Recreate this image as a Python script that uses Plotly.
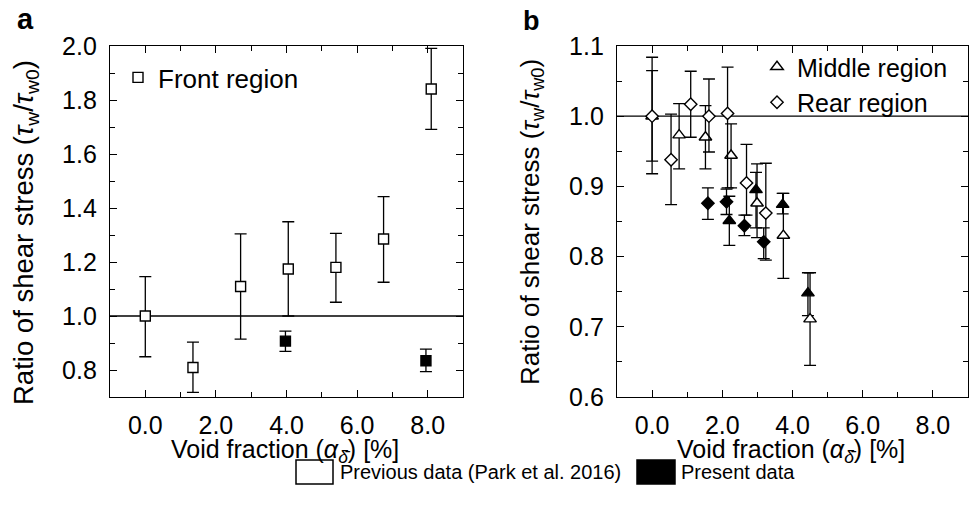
import plotly.graph_objects as go

# ---------------- data ----------------
# Panel a: front region
front_prev_x = [0.0, 1.35, 2.7, 4.05, 5.4, 6.75, 8.1]
front_prev_y = [1.000, 0.809, 1.109, 1.174, 1.180, 1.285, 1.841]
front_prev_lo = [0.849, 0.717, 0.914, 1.000, 1.051, 1.125, 1.691]
front_prev_hi = [1.146, 0.903, 1.304, 1.349, 1.306, 1.442, 1.991]

front_pres_x = [3.97, 7.95]
front_pres_y = [0.907, 0.834]
front_pres_lo = [0.869, 0.794]
front_pres_hi = [0.944, 0.877]

# Panel b: middle region
middle_prev_x = [0.0, 0.77, 1.52, 2.25, 2.99, 3.74, 4.50]
middle_prev_y = [1.000, 0.973, 0.970, 0.944, 0.876, 0.830, 0.711]
middle_prev_lo = [0.936, 0.925, 0.925, 0.898, 0.827, 0.769, 0.645]
middle_prev_hi = [1.065, 1.018, 1.015, 0.989, 0.932, 0.890, 0.777]

middle_pres_x = [2.20, 2.96, 3.72, 4.44]
middle_pres_y = [0.851, 0.895, 0.874, 0.748]
middle_pres_lo = [0.816, 0.841, 0.861, 0.716]
middle_pres_hi = [0.886, 0.920, 0.890, 0.777]

# Panel b: rear region
rear_prev_x = [0.0, 0.54, 1.10, 1.62, 2.15, 2.69, 3.24]
rear_prev_y = [1.000, 0.938, 1.017, 1.000, 1.004, 0.905, 0.862]
rear_prev_lo = [0.918, 0.874, 0.970, 0.949, 0.898, 0.859, 0.795]
rear_prev_hi = [1.084, 1.003, 1.064, 1.053, 1.070, 0.960, 0.933]

rear_pres_x = [1.59, 2.12, 2.63, 3.18]
rear_pres_y = [0.876, 0.878, 0.844, 0.821]
rear_pres_lo = [0.853, 0.860, 0.830, 0.797]
rear_pres_hi = [0.898, 0.896, 0.859, 0.841]

REF_RATIO = 1.0
x_tickvals = [0, 2, 4, 6, 8]
x_ticktext = ["0.0", "2.0", "4.0", "6.0", "8.0"]

# ---------------- figure ----------------
W, H = 974, 513
FONT = "Liberation Sans, Arial, sans-serif"


def px(x):
    return x / W


def py(y):
    return 1 - y / H


def err(y, lo, hi):
    return dict(type="data", symmetric=False,
                array=[h - v for v, h in zip(y, hi)],
                arrayminus=[v - l for v, l in zip(y, lo)],
                color="black", thickness=1.3, width=6)


def scatter(x, y, lo, hi, symbol, size, fill, xa, ya, name=None, legend=None):
    return go.Scatter(
        x=x, y=y, mode="markers", xaxis=xa, yaxis=ya,
        name=name or "present", showlegend=legend is not None,
        legend=legend or "legend",
        marker=dict(symbol=symbol, size=size, color=fill,
                    line=dict(color="black", width=1.4)),
        error_y=err(y, lo, hi), cliponaxis=False,
    )


fig = go.Figure()
# panel a
fig.add_trace(scatter(front_pres_x, front_pres_y, front_pres_lo, front_pres_hi,
                      "square", 10, "black", "x", "y"))
fig.add_trace(scatter(front_prev_x, front_prev_y, front_prev_lo, front_prev_hi,
                      "square", 10, "white", "x", "y", "Front region", "legend"))
# panel b
fig.add_trace(scatter(middle_pres_x, middle_pres_y, middle_pres_lo, middle_pres_hi,
                      "triangle-up", 11, "black", "x2", "y2"))
fig.add_trace(scatter(rear_pres_x, rear_pres_y, rear_pres_lo, rear_pres_hi,
                      "diamond", 9.5, "black", "x2", "y2"))
fig.add_trace(scatter(middle_prev_x, middle_prev_y, middle_prev_lo, middle_prev_hi,
                      "triangle-up", 11, "white", "x2", "y2", "Middle region", "legend2"))
fig.add_trace(scatter(rear_prev_x, rear_prev_y, rear_prev_lo, rear_prev_hi,
                      "diamond", 9.5, "white", "x2", "y2", "Rear region", "legend2"))

ydom = [py(397), py(46)]
common_x = dict(range=[-1, 9], tickmode="array", tickvals=x_tickvals, ticktext=x_ticktext,
                ticks="inside", ticklen=7, tickwidth=1.2, tickcolor="black",
                showline=True, linecolor="black", linewidth=1.3, mirror="ticks",
                showgrid=False, zeroline=False, ticklabelstandoff=6,
                tickfont=dict(size=25, color="black", family=FONT),
                minor=dict(tickmode="linear", tick0=-1, dtick=1, ticks="inside",
                           ticklen=5, tickcolor="black", tickwidth=1.2, showgrid=False))
common_y = dict(ticks="inside", ticklen=7, tickwidth=1.2, tickcolor="black",
                showline=True, linecolor="black", linewidth=1.3, mirror="ticks",
                showgrid=False, zeroline=False, ticklabelstandoff=7,
                tickfont=dict(size=25, color="black", family=FONT))

fig.update_layout(
    width=W, height=H, margin=dict(l=0, r=0, t=0, b=0, autoexpand=False),
    paper_bgcolor="white", plot_bgcolor="white",
    font=dict(family=FONT, color="black", size=24),
    xaxis=dict(domain=[px(110), px(463)], anchor="y", **common_x),
    yaxis=dict(domain=ydom, anchor="x", range=[0.7, 2.0], tickmode="linear",
               tick0=0.8, dtick=0.2, tickformat=".1f",
               minor=dict(tickmode="linear", tick0=0.7, dtick=0.1, ticks="inside",
                          ticklen=5, tickcolor="black", tickwidth=1.2, showgrid=False),
               **common_y),
    xaxis2=dict(domain=[px(617), px(968)], anchor="y2", **common_x),
    yaxis2=dict(domain=ydom, anchor="x2", range=[0.6, 1.1], tickmode="linear",
                tick0=0.6, dtick=0.1, tickformat=".1f",
                minor=dict(tickmode="linear", tick0=0.6, dtick=0.05, ticks="inside",
                           ticklen=5, tickcolor="black", tickwidth=1.2, showgrid=False),
                **common_y),
    legend=dict(x=px(118), y=py(54), xanchor="left", yanchor="top",
                bgcolor="rgba(0,0,0,0)", font=dict(size=26, family=FONT),
                itemsizing="trace", tracegroupgap=0),
    legend2=dict(x=px(757), y=py(44), xanchor="left", yanchor="top",
                 bgcolor="rgba(0,0,0,0)", font=dict(size=25, family=FONT),
                 itemsizing="trace", tracegroupgap=0),
    showlegend=True,
)

# reference line at ratio 1.0
for xr, yr in [("x domain", "y"), ("x2 domain", "y2")]:
    fig.add_shape(type="line", xref=xr, yref=yr, x0=0, x1=1, y0=REF_RATIO, y1=REF_RATIO,
                  line=dict(color="black", width=1.3), layer="below")

# bottom legend boxes
fig.add_shape(type="rect", xref="paper", yref="paper", x0=px(296), x1=px(333),
              y0=py(484), y1=py(460), line=dict(color="black", width=1.5), fillcolor="white")
fig.add_shape(type="rect", xref="paper", yref="paper", x0=px(637), x1=px(675),
              y0=py(484), y1=py(460), line=dict(color="black", width=1.5), fillcolor="black")

ytitle = "Ratio of shear stress (<i>τ</i><sub>w</sub>/<i>τ</i><sub>w0</sub>)"
xtitle = "Void fraction (<i>α</i><sub><i>δ̄</i></sub>) [%]"

annots = [
    dict(text="<b>a</b>", x=px(25), y=py(19), font=dict(size=29)),
    dict(text="<b>b</b>", x=px(531), y=py(21), font=dict(size=27)),
    dict(text=ytitle, x=px(25), y=py(233), textangle=-90, font=dict(size=27.5)),
    dict(text=ytitle, x=px(531), y=py(222), textangle=-90, font=dict(size=26)),
    dict(text=xtitle, x=px(285), y=py(451), font=dict(size=25)),
    dict(text=xtitle, x=px(791), y=py(451), font=dict(size=25)),
    dict(text="Previous data (Park et al. 2016)", x=px(338), y=py(472), xanchor="left",
         font=dict(size=20)),
    dict(text="Present data", x=px(679), y=py(472), xanchor="left", font=dict(size=20)),
]
for a in annots:
    a.setdefault("xanchor", "center")
    fig.add_annotation(xref="paper", yref="paper", yanchor="middle", showarrow=False,
                       **a)

fig.write_html("out.html")
